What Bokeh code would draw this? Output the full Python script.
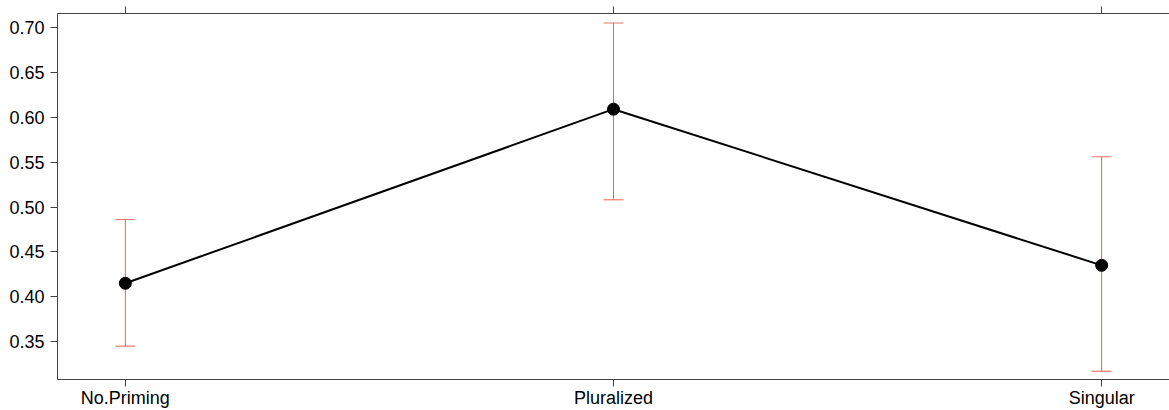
from bokeh.plotting import figure
from bokeh.models import Range1d, FixedTicker, LinearAxis, ColumnDataSource, Whisker, TeeHead, NumeralTickFormatter
from bokeh.embed import file_html
from bokeh.resources import INLINE

categories = ["No.Priming", "Pluralized", "Singular"]
means = [0.415, 0.609, 0.435]
lower = [0.345, 0.508, 0.317]
upper = [0.486, 0.705, 0.556]
y_ticks = [0.35, 0.40, 0.45, 0.50, 0.55, 0.60, 0.65, 0.70]

xpos = [i + 1 for i in range(len(categories))]
src = ColumnDataSource(dict(x=xpos, y=means, lo=lower, hi=upper))

FONT = "Liberation Sans"
AX = "#444444"

p = figure(width=1169, height=410, output_backend="svg", toolbar_location=None,
           x_range=Range1d(0.861, 3.139), y_range=Range1d(0.3078, 0.7156),
           x_axis_location="below", min_border_left=57, min_border_right=0,
           min_border_top=13, min_border_bottom=30, sizing_mode="fixed")
p.outline_line_color = None
p.outline_line_alpha = 0
p.outline_line_width = 0
p.xgrid.visible = False
p.ygrid.visible = False
p.background_fill_color = "white"
p.border_fill_color = "white"

def style(ax):
    ax.axis_line_color = AX
    ax.axis_line_width = 1
    ax.major_tick_line_color = AX
    ax.major_tick_out = 7
    ax.major_tick_in = 0
    ax.minor_tick_line_color = None
    ax.major_label_text_font = FONT
    ax.major_label_text_font_size = "18px"
    ax.major_label_text_color = "black"

xa = p.xaxis[0]
xa.ticker = FixedTicker(ticks=xpos)
xa.major_label_overrides = {x: c for x, c in zip(xpos, categories)}
xa.major_label_standoff = 1
style(xa)

ya = p.yaxis[0]
ya.ticker = FixedTicker(ticks=y_ticks)
ya.formatter = NumeralTickFormatter(format="0.00")
ya.major_label_standoff = 6
style(ya)

top = LinearAxis(ticker=FixedTicker(ticks=xpos))
style(top)
top.major_label_overrides = {x: "" for x in xpos}
top.major_label_text_font_size = "0px"
top.major_label_standoff = 0
p.add_layout(top, "above")

w = Whisker(source=src, base="x", lower="lo", upper="hi",
            line_color="#cf6f62", line_width=1,
            lower_head=TeeHead(size=20, line_color="#e8604a", line_width=1),
            upper_head=TeeHead(size=20, line_color="#d9786c", line_width=1))
p.add_layout(w)

p.line("x", "y", source=src, line_color="black", line_width=2)
p.scatter("x", "y", source=src, size=12, fill_color="black", line_color="black")

html = file_html(p, INLINE)
html = html.replace("<head>", "<head><style>html,body{margin:0;padding:0;overflow:hidden;}</style>", 1)
open("out.html", "w").write(html)
